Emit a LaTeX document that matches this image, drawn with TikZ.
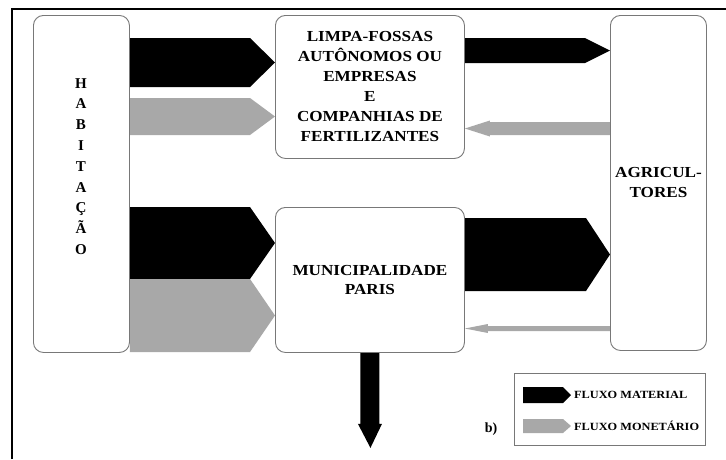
\documentclass[tikz,border=0pt]{standalone}
\usepackage{fontspec}
\setmainfont{Liberation Serif}
\newfontfamily\capsfont[FakeStretch=1.12]{Liberation Serif}
\usetikzlibrary{calc,backgrounds}

\definecolor{money}{RGB}{168,168,168}
\definecolor{boxline}{RGB}{120,120,120}

\tikzset{
  actor/.style={draw=boxline, line width=0.9pt, rounded corners=10pt,
    anchor=north west, inner sep=0pt, align=center,
    font=\capsfont\bfseries\fontsize{15.3}{20}\selectfont},
  material/.style={fill=black},
  monetary/.style={fill=money},
  keytext/.style={anchor=west, inner sep=0pt,
    font=\capsfont\bfseries\fontsize{11}{13}\selectfont},
}

% Block arrow pointing right, from the east side of #1 to the west side of #2.
% #3/#4: top/bottom y (pt, downward), #5: head length, #6: fill style
\newcommand\rflow[6]{%
  \fill[#6] let \p1=(#1.east), \p2=(#2.west) in
    (\x1,-#3pt) -- (\x2-#5pt,-#3pt) -- (\x2,{-(#3+#4)/2*1pt})
    -- (\x2-#5pt,-#4pt) -- (\x1,-#4pt) -- cycle;}

% Block arrow pointing left, from the west side of #1 to the east side of #2.
% #3/#4: top/bottom y, #5: head length, #6: head overhang, #7: fill style
\newcommand\lflow[7]{%
  \fill[#7] let \p1=(#1.west), \p2=(#2.east) in
    (\x1,-#3pt) -- (\x2+#5pt,-#3pt) -- (\x2+#5pt,{-(#3-#6)*1pt})
    -- (\x2,{-(#3+#4)/2*1pt}) -- (\x2+#5pt,{-(#4+#6)*1pt})
    -- (\x2+#5pt,-#4pt) -- (\x1,-#4pt) -- cycle;}

\begin{document}
\begin{tikzpicture}[x=1pt,y=1pt]
  \useasboundingbox (0,0) rectangle (726,-459);

  % outer frame
  \draw[line width=1.5pt] (12,-459) -- (12,-9) -- (726,-9);

  % actors
  \node[actor, minimum width=96pt, minimum height=337pt] (hab) at (33,-15) {};
  \node[anchor=center, align=center, inner sep=0pt,
        font=\bfseries\fontsize{15}{20.8}\selectfont] (habtext) at (81,-166.5)
        {H\\A\\B\\I\\T\\A\\Ç\\Ã\\O};
  \node[actor, minimum width=189pt, minimum height=143pt] (limpa) at (275,-15)
        {LIMPA-FOSSAS\\AUTÔNOMOS OU\\EMPRESAS\\E\\COMPANHIAS DE\\FERTILIZANTES};
  \node[actor, minimum width=189pt, minimum height=145pt,
        font=\capsfont\bfseries\fontsize{15.3}{18.5}\selectfont] (munic) at (275,-207)
        {MUNICIPALIDADE\\PARIS};
  \node[actor, minimum width=96pt, minimum height=335pt] (agric) at (610,-15)
        {AGRICUL-\\TORES};

  % flows, drawn underneath the box outlines
  \begin{pgfonlayer}{background}
    \fill[white] (0,0) rectangle (726,-459);
    \rflow{hab}{limpa}{38}{87}{25}{material}
    \rflow{hab}{limpa}{98}{135}{25}{monetary}
    \rflow{hab}{munic}{207}{279}{25}{material}
    \rflow{hab}{munic}{279}{352}{25}{monetary}
    \rflow{limpa}{agric}{38}{63}{25}{material}
    \rflow{munic}{agric}{218}{291}{24}{material}
    \lflow{agric}{limpa}{122}{135}{25}{1.5}{monetary}
    \lflow{agric}{munic}{326}{331}{23}{2}{monetary}
    % outflow leaving the municipality downwards
    \coordinate (sewer) at ($(munic.south)+(0.5pt,-95pt)$);
    \fill[material] let \p1=(munic.south), \p2=(sewer) in
      (\x1-9.5pt,\y1) -- (\x1-9.5pt,\y2+24pt) -- (\x1-12pt,\y2+24pt)
      -- (\x2,\y2) -- (\x1+12pt,\y2+24pt) -- (\x1+9.5pt,\y2+24pt)
      -- (\x1+9.5pt,\y1) -- cycle;
  \end{pgfonlayer}

  % legend
  \node[draw=boxline, line width=0.9pt, anchor=north west, inner sep=0pt,
        minimum width=191pt, minimum height=72pt] (legend) at (514,-373) {};
  \fill[material] (523,-387) -- (563,-387) -- (571,-395) -- (563,-403)
    -- (523,-403) -- cycle;
  \fill[monetary] (523,-419) -- (563,-419) -- (571,-426) -- (563,-433)
    -- (523,-433) -- cycle;
  \node[keytext] (kmat) at (574,-395) {FLUXO MATERIAL};
  \node[keytext] (kmon) at (574,-426) {FLUXO MONETÁRIO};
  \node[inner sep=0pt, font=\bfseries\fontsize{14}{16}\selectfont] (part) at (491,-429) {b)};
\end{tikzpicture}
\end{document}
